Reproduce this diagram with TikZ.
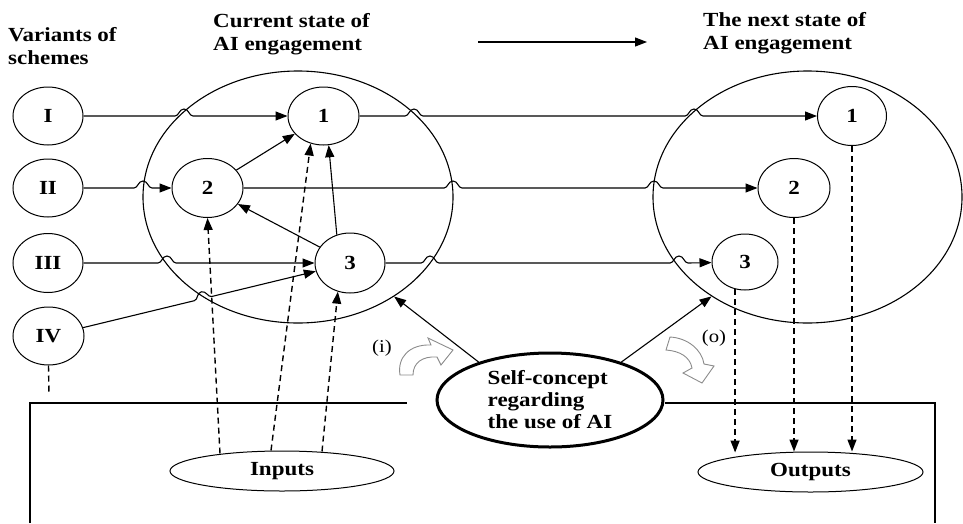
\documentclass[tikz,border=0pt]{standalone}
\usepackage{fontspec}
\setmainfont{Liberation Serif}[FakeStretch=1.15]
\usetikzlibrary{arrows.meta,calc,shapes.geometric}
% hop on a straight line: centre (#1,#2), unit direction (#3,#4)
\newcommand\hp[4]{-- ({#1-9*(#3)},{#2-9*(#4)}) .. controls ({#1-5*(#3)},{#2-5*(#4)}) and ({#1-5*(#3)+7*(#4)},{#2-5*(#4)-7*(#3)}) .. ({#1+7*(#4)},{#2-7*(#3)}) .. controls ({#1+5*(#3)+7*(#4)},{#2+5*(#4)-7*(#3)}) and ({#1+5*(#3)},{#2+5*(#4)}) .. ({#1+9*(#3)},{#2+9*(#4)})}
\tikzset{
  every node/.style={font=\fontsize{20}{23}\selectfont\bfseries},
  nd/.style={draw, ellipse, line width=1pt, inner sep=0pt},
  bigc/.style={draw, ellipse, line width=1.1pt, inner sep=0pt},
  ln/.style={line width=1.1pt},
  arr/.style={ln, -{Triangle[length=12pt,width=9pt]}},
  darr/.style={line width=1.4pt, dash pattern=on 6pt off 4pt, -{Triangle[length=12pt,width=9pt]}},
  dln/.style={line width=1.4pt, dash pattern=on 6pt off 4pt},
  hollow/.style={draw=black!45, line width=0.9pt, fill=white},
  lbl/.style={font=\fontsize{18}{20}\selectfont},
  head/.style={anchor=north west, align=left, inner sep=0pt}
}
\begin{document}
\begin{tikzpicture}[x=1pt,y=-1pt]
\useasboundingbox (0,0) rectangle (963,523);

% headings
\node[head] (hv) at (8,27) {Variants of\\schemes};
\node[head] (hc) at (213,13) {Current state of\\AI engagement};
\node[head] (hn) at (703,12) {The next state of\\AI engagement};
\coordinate (ta) at (478,42);
\coordinate (tb) at (647,42);
\draw[arr] (ta) -- (tb);

% big circles
\node[bigc, minimum width=310pt, minimum height=252pt] (bigL) at (298,197) {};
\node[bigc, minimum width=309pt, minimum height=252pt] (bigR) at (807.5,197) {};

% scheme nodes
\node[nd, minimum width=70pt, minimum height=58pt] (I) at (48,116) {I};
\node[nd, minimum width=70pt, minimum height=58pt] (II) at (48,188) {II};
\node[nd, minimum width=70pt, minimum height=59pt] (III) at (48,263) {III};
\node[nd, minimum width=71pt, minimum height=58pt] (IV) at (48.5,336) {IV};

% current state nodes
\node[nd, minimum width=71pt, minimum height=58pt] (one) at (323.5,116) {1};
\node[nd, minimum width=71pt, minimum height=59pt] (two) at (207.5,188) {2};
\node[nd, minimum width=70pt, minimum height=60pt] (three) at (350,263) {3};

% next state nodes
\node[nd, minimum width=69pt, minimum height=59pt] (rone) at (852,116) {1};
\node[nd, minimum width=72pt, minimum height=59pt] (rtwo) at (794,188) {2};
\node[nd, minimum width=66pt, minimum height=56pt] (rthree) at (745,262) {3};

% inputs / outputs / self-concept
\node[nd, minimum width=224pt, minimum height=40pt] (inputs) at (282,471) {Inputs};
\node[nd, minimum width=225pt, minimum height=40pt] (outputs) at (810.5,472) {Outputs};
\node[draw, ellipse, line width=3pt, minimum width=226pt, minimum height=94pt, inner sep=0pt, align=left,
      font=\fontsize{20}{22}\selectfont\bfseries] (self) at (550,400) {Self-concept\\regarding\\the use of AI};

% row connectors with hops
\draw[arr] (I) \hp{184}{116}{1}{0} -- (one);
\draw[arr] (one) \hp{414}{116}{1}{0} \hp{694}{116}{1}{0} -- (rone);
\draw[arr] (II) \hp{143}{188}{1}{0} -- (two);
\draw[arr] (two) \hp{453}{188}{1}{0} \hp{654}{188}{1}{0} -- (rtwo);
\draw[arr] (III) \hp{167}{263}{1}{0} -- (three);
\draw[arr] (three) \hp{430}{263}{1}{0} \hp{679}{263}{1}{0} -- (rthree);
\draw[arr] (IV) \hp{203}{298.6}{0.972}{-0.235} -- (three);

% inner arrows
\draw[arr] (two) -- (one);
\draw[arr] (three) -- (two);
\draw[arr] (three.115) -- (one.280);

% inputs dashed
\draw[darr] ($(inputs.north)+(-62,3)$) -- (two.south);
\draw[darr] ($(inputs.north)+(-11,0)$) -- (one.245);
\draw[darr] ($(inputs.north)+(40,1)$) -- (three.247);

% outputs dashed
\draw[darr] (rone.south) -- (rone.south |- outputs.north);
\draw[darr] (rtwo.south) -- (rtwo.south |- outputs.north);
\draw[darr] (rthree.250) -- ($(rthree.250 |- outputs.north)+(0,1)$);

% self-concept arrows
\draw[arr] (self.152) -- (bigL.-46);
\draw[arr] (self.28) -- (bigR.226);

% IV dashed stub
\coordinate (ivd) at (49,395);
\draw[dln] (IV.south) -- (ivd);

% frame lines
\coordinate (bl) at (30,403);
\coordinate (blend) at (407,403);
\coordinate (bl0) at (30,523);
\draw[ln] (bl0) -- (bl) -- (blend);
\coordinate (br) at (935,403);
\coordinate (br0) at (935,523);
\draw[ln] (self.east |- br) -- (br) -- (br0);

% labels
\node[lbl] (li) at (382,348) {(i)};
\node[lbl] (lo) at (714,338) {(o)};

% hollow curved arrows
\draw[hollow] (400,375) .. controls (397,357) and (410,344) .. (431,345) -- (428,338) -- (453,350) -- (441,365) -- (437,357) .. controls (422,356) and (413,363) .. (413,375) -- cycle;
\draw[hollow] (670,337) .. controls (688,338) and (702,350) .. (704,364) -- (714,366) -- (702,383) -- (683,373) -- (692,368) .. controls (690,357) and (680,351) .. (666,350) -- cycle;
\end{tikzpicture}
\end{document}
